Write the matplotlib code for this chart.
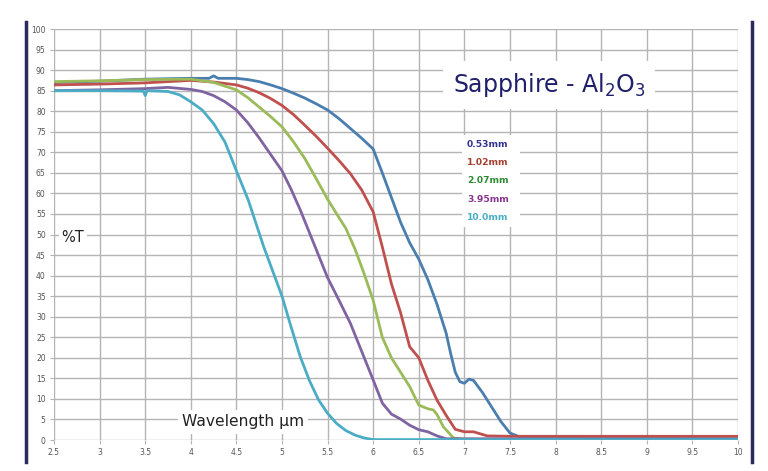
import numpy as np
import matplotlib.pyplot as plt
from matplotlib.lines import Line2D
from matplotlib.patches import Rectangle

# thickness labels and colours
labels = ["0.53mm", "1.02mm", "2.07mm", "3.95mm", "10.0mm"]
line_colors = ["#4a7eae", "#c0504d", "#9bbb59", "#8064a2", "#4bacc6"]
label_colors = ["#33348f", "#a3402e", "#2f8a34", "#86358c", "#4aaec2"]

# curves (wavelength um, %T)
x_053 = [2.5, 3.0, 3.5, 4.0, 4.2, 4.25, 4.3, 4.5, 4.625, 4.75, 4.875, 5.0, 5.125, 5.25,
         5.375, 5.5, 5.625, 5.75, 5.875, 6.0, 6.1, 6.2, 6.3, 6.4, 6.5, 6.6, 6.7, 6.8,
         6.85, 6.9, 6.95, 7.0, 7.05, 7.1, 7.2, 7.3, 7.4, 7.5, 7.6, 8.0, 10.0]
t_053 = [87.0, 87.3, 87.8, 88.0, 88.0, 88.6, 88.0, 88.0, 87.7, 87.2, 86.4, 85.5, 84.4, 83.2,
         81.8, 80.3, 78.2, 75.8, 73.4, 70.8, 65.0, 59.0, 53.0, 48.0, 44.0, 39.0, 33.0, 26.0,
         21.0, 16.5, 14.2, 13.8, 14.8, 14.5, 11.5, 8.0, 4.5, 1.7, 0.8, 0.7, 0.7]

x_102 = [2.5, 3.0, 3.5, 4.0, 4.25, 4.5, 4.625, 4.75, 4.875, 5.0, 5.125, 5.25, 5.375, 5.5,
         5.625, 5.75, 5.875, 6.0, 6.1, 6.2, 6.3, 6.4, 6.5, 6.6, 6.7, 6.8, 6.9, 7.0, 7.1,
         7.25, 7.5, 10.0]
t_102 = [86.4, 86.6, 86.9, 87.5, 87.1, 86.4, 85.6, 84.5, 83.1, 81.4, 79.2, 76.6, 73.9, 71.0,
         68.0, 64.8, 60.8, 55.5, 47.0, 38.0, 31.0, 22.7, 20.0, 14.5, 9.7, 6.0, 2.6, 2.0, 2.0,
         1.0, 0.9, 0.9]

x_207 = [2.5, 3.0, 3.5, 4.0, 4.25, 4.5, 4.625, 4.75, 4.875, 5.0, 5.125, 5.25, 5.375, 5.5,
         5.6, 5.7, 5.8, 5.9, 6.0, 6.1, 6.2, 6.3, 6.4, 6.5, 6.6, 6.66, 6.7, 6.77, 6.88,
         7.0, 10.0]
t_207 = [87.2, 87.4, 87.7, 87.8, 87.0, 85.2, 83.3, 81.0, 78.7, 76.2, 72.6, 68.5, 63.6, 58.6,
         55.0, 51.5, 46.5, 40.5, 34.0, 25.0, 20.0, 16.5, 13.0, 8.5, 7.6, 7.3, 6.2, 3.2, 0.5,
         0.2, 0.2]

x_395 = [2.5, 3.0, 3.5, 3.75, 4.0, 4.125, 4.25, 4.375, 4.5, 4.625, 4.75, 4.875, 5.0, 5.1,
         5.2, 5.3, 5.4, 5.5, 5.625, 5.75, 5.875, 6.0, 6.1, 6.2, 6.3, 6.4, 6.5, 6.6, 6.7,
         6.8, 10.0]
t_395 = [85.0, 85.2, 85.5, 85.8, 85.3, 84.8, 83.8, 82.3, 80.3, 77.2, 73.5, 69.5, 65.5, 61.0,
         56.0, 50.5, 45.0, 39.5, 34.0, 28.4, 21.5, 14.6, 9.0, 6.3, 5.1, 3.6, 2.5, 2.0, 1.0,
         0.3, 0.2]

x_100 = [2.5, 3.0, 3.48, 3.5, 3.52, 3.75, 3.875, 4.0, 4.125, 4.25, 4.375, 4.5, 4.63, 4.8,
         5.0, 5.1, 5.2, 5.3, 5.4, 5.5, 5.6, 5.7, 5.8, 5.9, 6.0, 10.0]
t_100 = [85.0, 85.0, 84.9, 83.8, 85.0, 84.8, 84.0, 82.3, 80.3, 77.0, 72.5, 65.5, 58.4, 47.0,
         35.0, 27.5, 20.3, 14.5, 9.8, 6.5, 4.0, 2.3, 1.2, 0.5, 0.1, 0.1]

curves = [(x_053, t_053), (x_102, t_102), (x_207, t_207), (x_395, t_395), (x_100, t_100)]

xticks = np.arange(2.5, 10.01, 0.5)
yticks = np.arange(0, 101, 5)
xtick_labels = ["%g" % v for v in xticks]

fig = plt.figure(figsize=(7.68, 4.71), dpi=100)
ax = fig.add_axes([0.0703, 0.0658, 0.8906, 0.8726])

for (xs, ts), c in zip(curves, line_colors):
    ax.plot(xs, ts, color=c, lw=2.0, solid_capstyle="round", solid_joinstyle="round",
            zorder=3)

ax.set_xlim(2.5, 10)
ax.set_ylim(0, 100)
ax.set_xticks(xticks)
ax.set_xticklabels(xtick_labels)
ax.set_yticks(yticks)
ax.grid(True, color="#b4b4b4", lw=1.0)
ax.set_axisbelow(True)
for s in ax.spines.values():
    s.set_visible(False)
ax.tick_params(labelsize=5.5, labelcolor="#555555", color="#b4b4b4", length=3, pad=3)

# title box
ax.text(7.93, 86.4, r"Sapphire - Al$_2$O$_3$", fontsize=17, color="#1f1f6b",
        ha="center", va="center", zorder=5, math_fontfamily="dejavusans",
        bbox=dict(facecolor="white", edgecolor="none", pad=7))

# legend labels on a white patch
ax.add_patch(Rectangle((6.97, 51.8), 0.64, 22.5, facecolor="white", edgecolor="none",
                       zorder=4))
for i, (lab, c) in enumerate(zip(labels, label_colors)):
    ax.text(7.03, 71.9 - i * 4.42, lab, fontsize=6.6, fontweight="bold", color=c,
            ha="left", va="center", zorder=5)

ax.text(2.58, 49.3, "%T", fontsize=10.5, color="#222222", ha="left", va="center",
        zorder=5, bbox=dict(facecolor="white", edgecolor="none", pad=2))
ax.text(4.57, 4.4, "Wavelength \u00b5m", fontsize=11.2, color="#222222", ha="center",
        va="center", zorder=5, bbox=dict(facecolor="white", edgecolor="none", pad=3))

# dark side bars
fig.add_artist(Line2D([26 / 768, 26 / 768], [1 - 22 / 471, 1 - 462 / 471],
                      color="#2a2a5e", lw=2.5))
fig.add_artist(Line2D([752 / 768, 752 / 768], [1 - 22 / 471, 1 - 462 / 471],
                      color="#2a2a5e", lw=2.5))

fig.savefig("out.png", dpi=100)
